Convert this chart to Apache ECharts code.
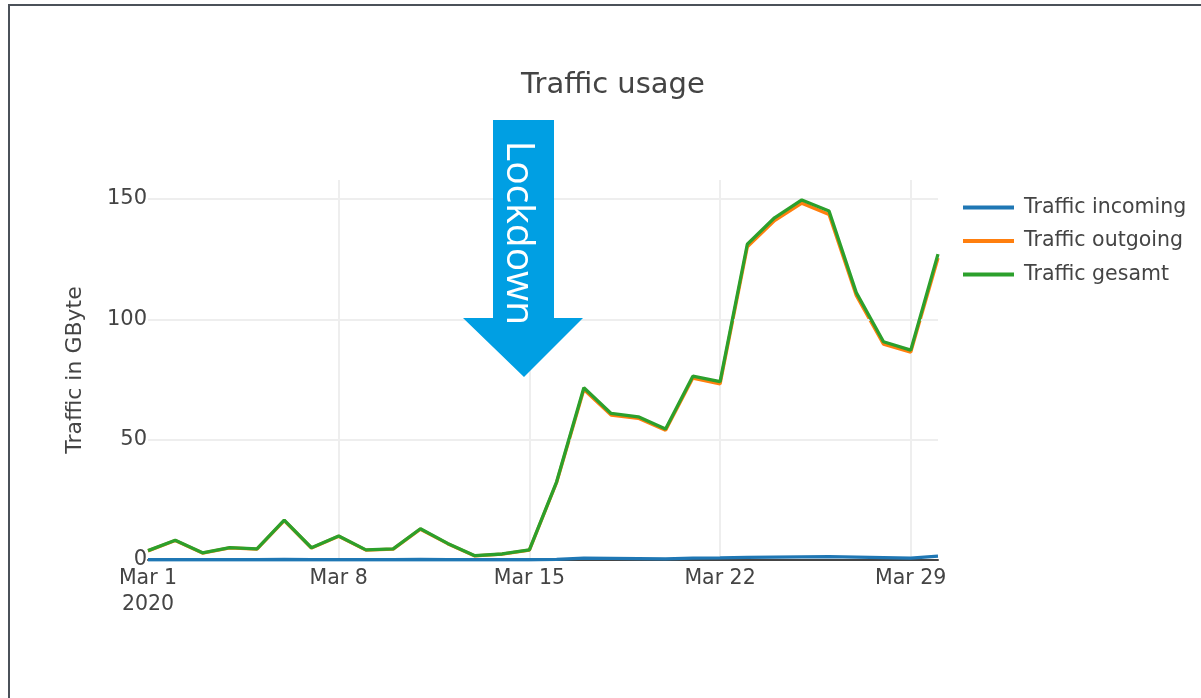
<!DOCTYPE html>
<html>
<head>
<meta charset="utf-8">
<script src="https://cdn.jsdelivr.net/npm/echarts@6/dist/echarts.min.js"></script>
<style>
html,body{margin:0;padding:0;background:#fff;}
#chart{width:1201px;height:698px;}
</style>
</head>
<body>
<div id="chart"></div>
<script>
const days = ['2020-03-01','2020-03-02','2020-03-03','2020-03-04','2020-03-05','2020-03-06','2020-03-07','2020-03-08','2020-03-09','2020-03-10','2020-03-11','2020-03-12','2020-03-13','2020-03-14','2020-03-15','2020-03-16','2020-03-17','2020-03-18','2020-03-19','2020-03-20','2020-03-21','2020-03-22','2020-03-23','2020-03-24','2020-03-25','2020-03-26','2020-03-27','2020-03-28','2020-03-29','2020-03-30'];
const trafficIncoming = [0.1,0.1,0.1,0.1,0.1,0.2,0.1,0.1,0.1,0.1,0.2,0.1,0.1,0.1,0.1,0.3,0.8,0.7,0.6,0.5,0.8,0.9,1.1,1.2,1.3,1.4,1.2,1.0,0.8,1.6];
const trafficOutgoing = [3.8,8.1,2.9,5.0,4.5,16.4,5.0,9.9,4.1,4.5,12.8,6.8,1.7,2.4,4.1,32.2,70.8,60.2,58.9,53.9,75.6,73.2,130.1,141.0,148.3,143.6,109.9,89.7,86.4,125.5];
const trafficGesamt = [3.9,8.2,3.0,5.1,4.6,16.6,5.1,10.0,4.2,4.6,13.0,6.9,1.8,2.5,4.2,32.5,71.6,60.9,59.5,54.4,76.4,74.1,131.2,142.2,149.6,145.0,111.1,90.7,87.2,127.1];
const seriesNames = ['Traffic incoming','Traffic outgoing','Traffic gesamt'];
const yGridValues = [50, 100, 150];
const monthNames = ['Jan','Feb','Mar','Apr','May','Jun','Jul','Aug','Sep','Oct','Nov','Dec'];

const FONT = '"DejaVu Sans", Verdana, sans-serif';
const TXT = '#444';

const chart = echarts.init(document.getElementById('chart'), null, {renderer:'canvas'});

function tickShown(i){ return i % 7 === 0; }

chart.setOption({
  backgroundColor: '#fff',
  animation: false,
  title: {
    text: 'Traffic usage',
    left: 516,
    top: 66,
    textStyle: {fontFamily: FONT, fontSize: 29, fontWeight: 'normal', color: TXT}
  },
  legend: {
    orient: 'vertical',
    left: 963,
    top: 197,
    padding: 0,
    itemWidth: 51,
    itemHeight: 4,
    itemGap: 12.5,
    icon: 'rect',
    data: seriesNames,
    textStyle: {fontFamily: FONT, fontSize: 20.5, color: TXT, padding: [0,0,0,5]}
  },
  grid: {left: 148, right: 263, top: 180, bottom: 138, containLabel: false},
  xAxis: {
    type: 'category',
    data: days,
    boundaryGap: false,
    axisLine: {show: true, lineStyle: {color: TXT, width: 2}},
    axisTick: {show: false},
    axisLabel: {
      interval: function(i){ return tickShown(i); },
      fontFamily: FONT, fontSize: 20.5, color: TXT, margin: 6, lineHeight: 26,
      formatter: function(v, i){
        const p = v.split('-');
        const s = monthNames[parseInt(p[1],10)-1] + ' ' + parseInt(p[2],10);
        return i === 0 ? s + '\n' + p[0] : s;
      }
    },
    splitLine: {show: true, interval: function(i){ return tickShown(i) && i > 0; }, lineStyle: {color: '#eeeeee', width: 2}}
  },
  yAxis: {
    type: 'value',
    min: 0,
    max: 157.9,
    interval: 50,
    name: 'Traffic in GByte',
    nameLocation: 'middle',
    nameGap: 62,
    nameTextStyle: {fontFamily: FONT, fontSize: 22, color: TXT},
    axisLine: {show: false},
    axisTick: {show: false},
    axisLabel: {
      fontFamily: FONT, fontSize: 21, color: TXT, margin: 1, showMaxLabel: false,
      formatter: function(v){ return (v % 50 === 0) ? String(v) : ''; }
    },
    splitLine: {show: false}
  },
  series: [
    {name: seriesNames[0], type: 'line', data: trafficIncoming, showSymbol: false, symbol: 'none', lineStyle: {width: 3.3, color: '#1f77b4'}, itemStyle: {color: '#1f77b4'}, z: 2,
     markLine: {silent: true, symbol: 'none', label: {show: false}, lineStyle: {color: '#eeeeee', width: 2, type: 'solid'},
       data: yGridValues.map(function(v){ return {yAxis: v}; })}},
    {name: seriesNames[1], type: 'line', data: trafficOutgoing, showSymbol: false, symbol: 'none', lineStyle: {width: 3.3, color: '#ff7f0e'}, itemStyle: {color: '#ff7f0e'}, z: 4},
    {name: seriesNames[2], type: 'line', data: trafficGesamt, showSymbol: false, symbol: 'none', lineStyle: {width: 3.3, color: '#2ca02c'}, itemStyle: {color: '#2ca02c'}, z: 5}
  ],
  graphic: [
    {type: 'line', shape: {x1: 9, y1: 5, x2: 1201, y2: 5}, style: {stroke: '#4b5159', lineWidth: 2}, z: 100},
    {type: 'line', shape: {x1: 9, y1: 4, x2: 9, y2: 698}, style: {stroke: '#4b5159', lineWidth: 2}, z: 100},
    {type: 'polygon', shape: {points: [[493,120],[554,120],[554,318],[583,318],[524,377],[463,318],[493,318]]}, style: {fill: '#009fe3'}, z: 50},
    {type: 'text', x: 518, y: 233, rotation: -Math.PI/2, style: {text: 'Lockdown', fill: '#fff', fontFamily: '"Open Sans", sans-serif', fontSize: 39, align: 'center', verticalAlign: 'middle'}, z: 51}
  ]
});
</script>
</body>
</html>
